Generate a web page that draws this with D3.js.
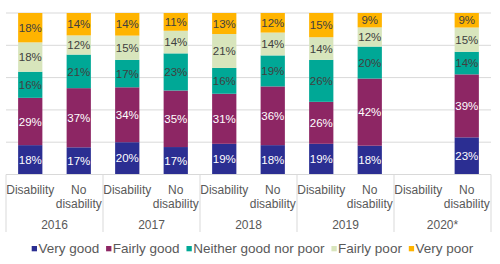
<!DOCTYPE html>
<html><head><meta charset="utf-8">
<script src="https://cdn.jsdelivr.net/npm/d3@7"></script>
<style>
html,body{margin:0;padding:0;background:#fff;}
svg{display:block;font-family:"Liberation Sans",Arial,sans-serif;}
</style></head>
<body><svg id="c" width="500" height="264"></svg>
<script>
const years = ["2016","2017","2018","2019","2020*"];
const groups = ["Disability","No disability"];
const seriesNames = ["Very good","Fairly good","Neither good nor poor","Fairly poor","Very poor"];
const colors = ["#2B2E92","#8D2664","#00A896","#D8E5BC","#FFB400"];
// values per bar: 2016 D, 2016 N, 2017 D, 2017 N, ... 2020 D (missing), 2020 N
const veryGood   = [18,17,20,17,19,18,19,18,null,23];
const fairlyGood = [29,37,34,35,31,36,26,42,null,39];
const neither    = [16,21,17,23,16,19,26,20,null,14];
const fairlyPoor = [18,12,15,14,21,14,14,12,null,15];
const veryPoor   = [18,14,14,11,13,12,15,9,null,9];
const seriesVals = [veryGood,fairlyGood,neither,fairlyPoor,veryPoor];

(function(){
const svg = d3.select("#c");
const pLeft = 6, pRight = 491, pTop = 13, pBottom = 174.5;
const keys = [];
years.forEach(yy=>groups.forEach(g=>keys.push(yy+"|"+g)));
const x = d3.scaleBand().domain(keys).range([pLeft,pRight]).paddingInner(0.5).paddingOuter(0.25);
const y = d3.scaleLinear().domain([0,1]).range([pBottom,pTop]);

svg.append("g").selectAll("line").data(y.ticks(5)).join("line")
  .attr("x1",pLeft).attr("x2",pRight).attr("y1",d=>y(d)).attr("y2",d=>y(d))
  .attr("stroke","#D9D9D9").attr("stroke-width",1);

const rows = keys.map((k,i)=>{
  const r = {key:k};
  seriesNames.forEach((s,j)=>r[s]=seriesVals[j][i]);
  return r;
}).filter(r=>r[seriesNames[0]]!=null);
const stack = d3.stack().keys(seriesNames).offset(d3.stackOffsetExpand);
const stacked = stack(rows);

const textColors = ["#fff","#fff","#404040","#404040","#404040"];
stacked.forEach((layer,j)=>{
  const g = svg.append("g");
  g.selectAll("rect").data(layer).join("rect")
    .attr("x",d=>x(d.data.key)).attr("width",x.bandwidth())
    .attr("y",d=>y(d[1])).attr("height",d=>y(d[0])-y(d[1]))
    .attr("fill",colors[j]);
  g.selectAll("text").data(layer).join("text")
    .attr("x",d=>x(d.data.key)+x.bandwidth()/2)
    .attr("y",d=>(y(d[0])+y(d[1]))/2)
    .attr("dy","0.36em").attr("text-anchor","middle")
    .attr("font-size","11.5px").attr("fill",textColors[j])
    .text(d=>d.data[layer.key]+"%");
});

svg.append("line").attr("x1",pLeft).attr("x2",pRight).attr("y1",pBottom).attr("y2",pBottom)
  .attr("stroke","#D9D9D9");

const gw = (pRight-pLeft)/years.length;
const seps = d3.range(years.length+1).map(i=>pLeft+i*gw);
svg.append("g").selectAll("line").data(seps).join("line")
  .attr("x1",d=>d).attr("x2",d=>d).attr("y1",pBottom).attr("y2",232)
  .attr("stroke","#D9D9D9");

const lab = svg.append("g").attr("font-size","12px").attr("fill","#595959").attr("text-anchor","middle");
keys.forEach(k=>{
  const [yr,g] = k.split("|");
  const cx = x(k)+x.bandwidth()/2;
  if(g==="Disability"){
    lab.append("text").attr("x",cx).attr("y",194).text("Disability");
  } else {
    lab.append("text").attr("x",cx).attr("y",194).text("No");
    lab.append("text").attr("x",cx).attr("y",207.5).text("disability");
  }
});
years.forEach((yr,i)=>{
  lab.append("text").attr("x",pLeft+gw*(i+0.5)).attr("y",229).text(yr);
});

const leg = svg.append("g").attr("font-size","13.5px").attr("fill","#595959");
const items = [];
seriesNames.forEach((s,i)=>{
  const it = leg.append("g");
  it.append("rect").attr("x",0).attr("y",-6.7).attr("width",5.3).attr("height",5.3).attr("fill",colors[i]);
  const t = it.append("text").attr("x",6.7).attr("y",0).text(s);
  const w = 6.7 + t.node().getComputedTextLength();
  items.push({it,w});
});
const legL = 31.7, legR = 473.3;
const gap = Math.max(3, (legR-legL - d3.sum(items,d=>d.w))/(items.length-1));
const total = d3.sum(items,d=>d.w)+gap*(items.length-1);
let pos = (legL+legR)/2 - total/2;
items.forEach(d=>{ d.it.attr("transform",`translate(${pos},252.7)`); pos += d.w+gap; });
})();
</script></body></html>
